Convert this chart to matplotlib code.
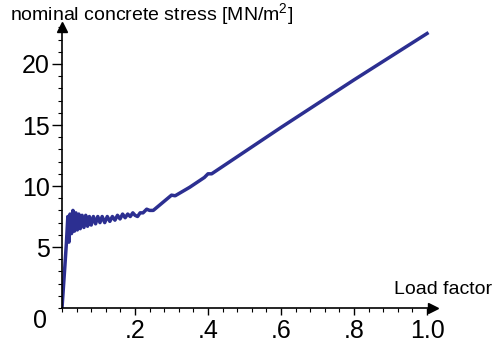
import matplotlib
matplotlib.use("Agg")
import matplotlib.pyplot as plt
from matplotlib.ticker import MultipleLocator

plt.rcParams['font.family'] = ['Liberation Sans', 'DejaVu Sans']

# load factor vs nominal concrete stress
load = [0, 0.008, 0.012, 0.016, 0.019, 0.022, 0.026, 0.030, 0.034, 0.038,
        0.042, 0.046, 0.050, 0.055, 0.060, 0.065, 0.070, 0.075, 0.080, 0.086,
        0.092, 0.098, 0.104, 0.110, 0.117, 0.124, 0.131, 0.138, 0.145, 0.152,
        0.159, 0.166, 0.173, 0.180, 0.187, 0.194, 0.200, 0.207, 0.214, 0.222,
        0.232, 0.240, 0.250, 0.270, 0.290, 0.300, 0.310, 0.350, 0.390, 0.400,
        0.410, 0.420, 0.600, 0.800, 1.000]
stress = [0, 3.5, 5.3, 7.5, 5.4, 7.7, 6.1, 8.0, 6.3, 7.8,
          6.4, 7.7, 6.5, 7.6, 6.6, 7.6, 6.7, 7.5, 6.8, 7.5,
          6.9, 7.5, 7.0, 7.5, 7.0, 7.5, 7.1, 7.5, 7.2, 7.6,
          7.3, 7.7, 7.4, 7.7, 7.5, 7.8, 7.6, 7.5, 7.8, 7.8,
          8.1, 8.0, 8.0, 8.5, 9.0, 9.25, 9.2, 9.9, 10.7, 11.0,
          11.0, 11.2, 14.8, 18.7, 22.5]

xticks = [0.2, 0.4, 0.6, 0.8, 1.0]
xlabels = ['.2', '.4', '.6', '.8', '1.0']
yticks = [5, 10, 15, 20]
ylabels = ['5', '10', '15', '20']

fig = plt.figure(figsize=(4.96, 3.45), dpi=100)
ax = fig.add_axes([0.125, 0.1072, 0.747, 0.8134])

ax.plot(load, stress, color='#2c2f91', lw=2.5, solid_joinstyle='round')

ax.set_xlim(0, 1.015)
ax.set_ylim(0, 23)

for s in ['top', 'right']:
    ax.spines[s].set_visible(False)
for s in ['left', 'bottom']:
    ax.spines[s].set_linewidth(1.2)

# arrow heads
ax.plot(1, 0, '>k', ms=7, transform=ax.get_yaxis_transform(), clip_on=False)
ax.plot(0, 1, '^k', ms=7, transform=ax.get_xaxis_transform(), clip_on=False)

ax.set_xticks(xticks)
ax.set_xticklabels(xlabels)
ax.set_yticks(yticks)
ax.set_yticklabels(ylabels)
ax.xaxis.set_minor_locator(MultipleLocator(0.04))
ax.yaxis.set_minor_locator(MultipleLocator(1))
ax.tick_params(axis='x', which='major', length=5, width=1, labelsize=18, pad=3)
ax.tick_params(axis='x', which='minor', length=3, width=0.8)
ax.tick_params(axis='y', which='major', length=7, width=1, labelsize=18, pad=2)
ax.tick_params(axis='y', which='minor', length=3, width=0.8)

ax.annotate('0', (0, 0), xytext=(-16, -9), textcoords='offset points',
            ha='center', va='center', fontsize=18)

fig.text(10 / 496, 1 - 21 / 345, 'nominal concrete stress [MN/m$^{\\mathregular{2}}$]',
         fontsize=14, ha='left', va='baseline')
fig.text(492 / 496, 55 / 345, 'Load factor', fontsize=14, ha='right', va='center')

fig.savefig('out.png', dpi=100)
